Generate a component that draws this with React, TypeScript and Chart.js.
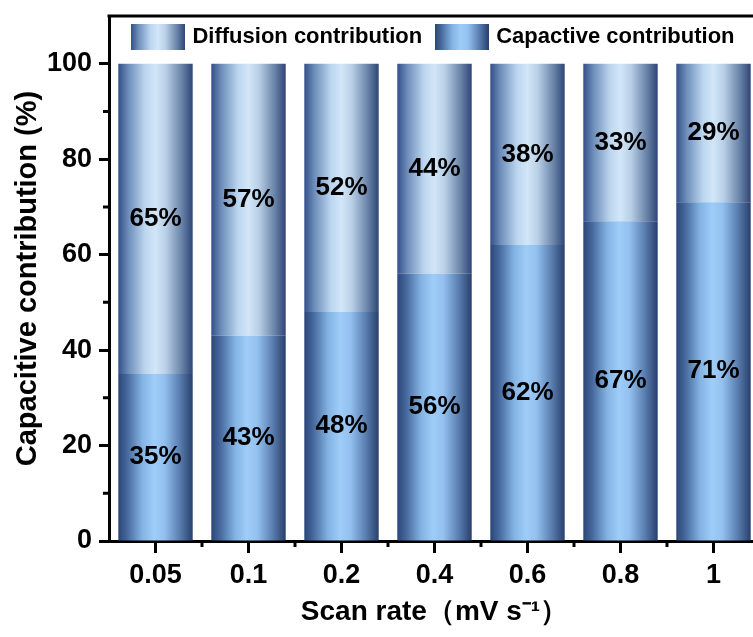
import React, { useEffect, useRef } from 'react';
import { Chart, registerables } from 'chart.js';

Chart.register(...registerables);

const categories = ['0.05', '0.1', '0.2', '0.4', '0.6', '0.8', '1'];
const capacitive = [35, 43, 48, 56, 62, 67, 71];
const diffusion = [65, 57, 52, 44, 38, 33, 29];
const yTicks = [0, 20, 40, 60, 80, 100];
const yMinorTicks = [10, 30, 50, 70, 90];

const capLabel = 'Capactive contribution';
const difLabel = 'Diffusion contribution';
const yTitle = 'Capacitive contribution (%)';
const xTitle = 'Scan rate（mV s⁻¹）';

const FONT = '"Liberation Sans", Arial, Helvetica, sans-serif';
const BAR_PCT = 0.8;
const CANVAS_W = 772;
const CANVAS_H = 637;

const capStops: [number, string][] = [
  [0, '#2a4679'],
  [0.12, '#46689d'],
  [0.32, '#83b3e3'],
  [0.48, '#9fcdf9'],
  [0.62, '#93c0ee'],
  [0.82, '#5b80b2'],
  [1, '#283f6c'],
];
const difStops: [number, string][] = [
  [0, '#33508a'],
  [0.14, '#6f8fbb'],
  [0.36, '#bcd6ef'],
  [0.5, '#d2e6f8'],
  [0.64, '#b8cfe6'],
  [0.85, '#6a84a9'],
  [1, '#2f4576'],
];

function makeGradient(c: CanvasRenderingContext2D, x0: number, x1: number, stops: [number, string][]) {
  const g = c.createLinearGradient(x0, 0, x1, 0);
  stops.forEach(([o, col]) => g.addColorStop(o, col));
  return g;
}

function barGradient(stops: [number, string][]) {
  return (ctx: any) => {
    const chart = ctx.chart;
    const area = chart.chartArea;
    if (!area || ctx.dataIndex === undefined || !chart.scales.x) return stops[3][1];
    const center = chart.scales.x.getPixelForValue(ctx.dataIndex);
    const half = ((area.width / categories.length) * BAR_PCT) / 2;
    return makeGradient(chart.ctx, center - half, center + half, stops);
  };
}

function legendSwatch(stops: [number, string][]) {
  const cv = document.createElement('canvas');
  cv.width = 54;
  cv.height = 26;
  const c = cv.getContext('2d')!;
  c.fillStyle = makeGradient(c, 0, 54, stops);
  c.fillRect(0, 0, 54, 26);
  return cv;
}

// Let the legend sit inside the plot frame: it takes little layout room,
// then gets its full height back for drawing.
const legendHack = {
  id: 'legendHack',
  afterInit(chart: any) {
    const lg = chart.legend;
    if (!lg) return;
    const orig = lg.fit;
    lg.fit = function () {
      orig.call(this);
      this._fullHeight = this.height;
      this.height = 6;
    };
  },
  afterLayout(chart: any) {
    const lg = chart.legend;
    if (!lg || lg._fullHeight === undefined) return;
    lg.height = lg._fullHeight;
    lg.bottom = lg.top + lg.height;
  },
};

const framePlugin = {
  id: 'framePlugin',
  afterDraw(chart: any) {
    const { ctx, chartArea } = chart;
    const ys = chart.scales.y;
    const xs = chart.scales.x;
    ctx.save();
    ctx.strokeStyle = '#000';
    ctx.lineWidth = 3;
    ctx.beginPath();
    ctx.moveTo(chartArea.left - 1.5, chartArea.top);
    ctx.lineTo(chart.width, chartArea.top);
    ctx.stroke();
    ctx.beginPath();
    yMinorTicks.forEach((v) => {
      const y = ys.getPixelForValue(v);
      ctx.moveTo(chartArea.left - 6, y);
      ctx.lineTo(chartArea.left, y);
    });
    for (let i = 0; i < categories.length; i++) {
      const x = (xs.getPixelForValue(i) + xs.getPixelForValue(i + 1)) / 2;
      ctx.moveTo(x, chartArea.bottom);
      ctx.lineTo(x, chartArea.bottom + 6);
    }
    ctx.stroke();
    ctx.restore();
  },
};

const valueLabels = {
  id: 'valueLabels',
  afterDatasetsDraw(chart: any) {
    const { ctx } = chart;
    ctx.save();
    ctx.font = `bold 26px ${FONT}`;
    ctx.fillStyle = '#000';
    ctx.textAlign = 'center';
    ctx.textBaseline = 'middle';
    chart.data.datasets.forEach((ds: any, di: number) => {
      const meta = chart.getDatasetMeta(di);
      meta.data.forEach((el: any, i: number) => {
        const y = (el.y + el.base) / 2;
        ctx.fillText(`${ds.data[i]}%`, el.x, y);
      });
    });
    ctx.restore();
  },
};

export default function App() {
  const ref = useRef<HTMLCanvasElement>(null);

  useEffect(() => {
    if (!ref.current) return;
    const capSwatch = legendSwatch(capStops);
    const difSwatch = legendSwatch(difStops);
    const chart = new Chart(ref.current, {
      type: 'bar',
      data: {
        labels: categories,
        datasets: [
          {
            label: capLabel,
            data: capacitive,
            backgroundColor: barGradient(capStops),
            borderWidth: 0,
            barPercentage: BAR_PCT,
            categoryPercentage: 1,
          },
          {
            label: difLabel,
            data: diffusion,
            backgroundColor: barGradient(difStops),
            borderWidth: 0,
            barPercentage: BAR_PCT,
            categoryPercentage: 1,
          },
        ],
      },
      options: {
        responsive: false,
        animation: false,
        devicePixelRatio: 1,
        layout: { padding: { left: 0, right: 12, top: 10, bottom: 0 } },
        plugins: {
          tooltip: { enabled: false },
          legend: {
            display: true,
            position: 'top',
            fullSize: false,
            align: 'center',
            labels: {
              usePointStyle: true,
              pointStyleWidth: 47,
              padding: 16,
              color: '#000',
              font: { family: FONT, size: 22, weight: 'bold' },
              generateLabels: () => [
                {
                  text: difLabel,
                  pointStyle: difSwatch,
                  fillStyle: 'transparent',
                  strokeStyle: 'transparent',
                  lineWidth: 0,
                  hidden: false,
                  datasetIndex: 1,
                  fontColor: '#000',
                } as any,
                {
                  text: capLabel,
                  pointStyle: capSwatch,
                  fillStyle: 'transparent',
                  strokeStyle: 'transparent',
                  lineWidth: 0,
                  hidden: false,
                  datasetIndex: 0,
                  fontColor: '#000',
                } as any,
              ],
            },
          },
        },
        scales: {
          x: {
            stacked: true,
            afterFit: (s: any) => {
              s.height = 96;
              s.paddingLeft = 0;
              s.paddingRight = 0;
            },
            grid: {
              offset: false,
              drawOnChartArea: false,
              drawTicks: true,
              tickLength: 12,
              tickWidth: 3,
              tickColor: '#000',
            },
            border: { display: true, width: 3, color: '#000' },
            ticks: {
              color: '#000',
              padding: 6,
              font: { family: FONT, size: 27, weight: 'bold' },
            },
            title: {
              display: true,
              text: xTitle,
              color: '#000',
              padding: { top: 4, bottom: 8 },
              font: { family: FONT, size: 28, weight: 'bold' },
            },
          },
          y: {
            stacked: true,
            min: 0,
            max: 110,
            afterBuildTicks: (s: any) => {
              s.ticks = yTicks.map((v) => ({ value: v }));
            },
            afterFit: (s: any) => {
              s.width = 109;
              s.paddingTop = 0;
              s.paddingBottom = 0;
            },
            grid: {
              drawOnChartArea: false,
              drawTicks: true,
              tickLength: 10,
              tickWidth: 3,
              tickColor: '#000',
            },
            border: { display: true, width: 3, color: '#000' },
            ticks: {
              color: '#000',
              padding: 7,
              font: { family: FONT, size: 27, weight: 'bold' },
            },
            title: {
              display: true,
              text: yTitle,
              color: '#000',
              padding: { top: 11, bottom: 4 },
              font: { family: FONT, size: 29, weight: 'bold' },
            },
          },
        },
      },
      plugins: [legendHack, framePlugin, valueLabels],
    } as any);
    return () => chart.destroy();
  }, []);

  return (
    <div
      style={{
        position: 'fixed',
        left: 0,
        top: 0,
        width: 753,
        height: 637,
        overflow: 'hidden',
        background: '#fff',
      }}
    >
      <canvas
        ref={ref}
        width={CANVAS_W}
        height={CANVAS_H}
        style={{ display: 'block', width: CANVAS_W, height: CANVAS_H }}
      />
    </div>
  );
}
